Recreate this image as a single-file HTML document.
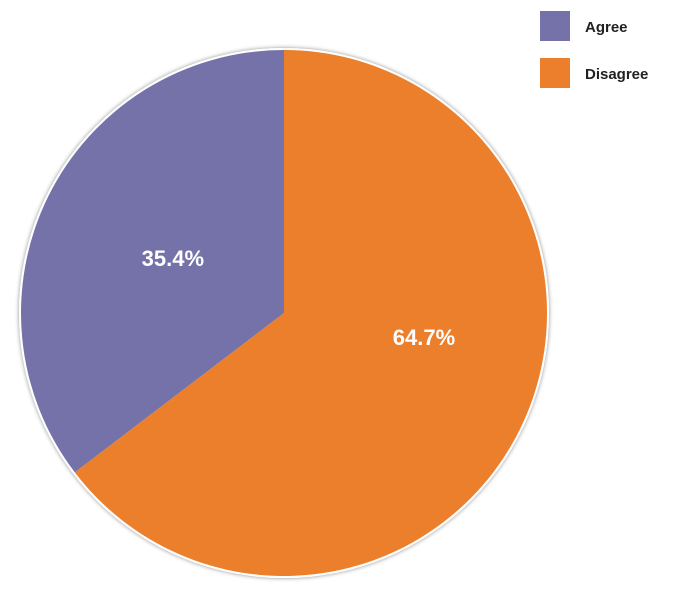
<!DOCTYPE html>
<html><head><meta charset="utf-8"><style>
html,body{margin:0;padding:0;background:#fff;width:674px;height:597px;overflow:hidden}
svg{display:block;font-family:"Liberation Sans",sans-serif}
</style></head><body>
<svg id="chart" width="674" height="597" viewBox="0 0 674 597">
<defs><filter id="sh" x="-10%" y="-10%" width="120%" height="120%"><feDropShadow dx="0" dy="0" stdDeviation="2" flood-color="#000" flood-opacity="0.45"/></filter></defs>
<g id="pie"></g>
<g>
<g>
<rect x="540" y="11" width="30" height="30" fill="#7472a8"/>
<text x="585" y="32" font-size="15" font-weight="bold" fill="#222">Agree</text></g>
<g>
<rect x="540" y="58" width="30" height="30" fill="#eb7f2b"/>
<text x="585" y="79" font-size="15" font-weight="bold" fill="#222">Disagree</text></g>
</g>
</svg>
<script>
const categories = ["Agree", "Disagree"];
const values = [35.4, 64.7];
const labels = ["35.4%", "64.7%"];
const colors = ["#7472a8", "#eb7f2b"];
const cx = 284, cy = 313, r = 263;
const labelRadius = [124, 142];
const labelAngleShift = [0, 16.6];
const ns = "http://www.w3.org/2000/svg";
const g = document.getElementById("pie");
const total = values.reduce((a, b) => a + b, 0);
const bg = document.createElementNS(ns, "circle");
bg.setAttribute("cx", cx); bg.setAttribute("cy", cy); bg.setAttribute("r", r + 2);
bg.setAttribute("fill", "#fff"); bg.setAttribute("filter", "url(#sh)");


g.appendChild(bg);
function pt(a, rr) { return [cx - rr * Math.sin(a), cy - rr * Math.cos(a)]; }
let start = 0;
values.forEach((v, i) => {
  const sweep = v / total * 2 * Math.PI;
  const end = start + sweep;
  const [x1, y1] = pt(start, r), [x2, y2] = pt(end, r);
  const large = sweep > Math.PI ? 1 : 0;
  const p = document.createElementNS(ns, "path");
  p.setAttribute("d", `M${cx},${cy} L${x1},${y1} A${r},${r} 0 ${large} 0 ${x2},${y2} Z`);
  p.setAttribute("fill", colors[i]);
  
  
  g.appendChild(p);
  const mid = start + sweep / 2 + labelAngleShift[i] * Math.PI / 180;
  const [lx, ly] = pt(mid, labelRadius[i]);
  const t = document.createElementNS(ns, "text");
  t.setAttribute("x", lx); t.setAttribute("y", ly + 8);
  t.setAttribute("text-anchor", "middle"); t.setAttribute("font-size", "22");
  t.setAttribute("font-weight", "bold"); t.setAttribute("fill", "#fff");
  t.textContent = labels[i];
  
  
  g.appendChild(t);
  start = end;
});
</script>
</body></html>
